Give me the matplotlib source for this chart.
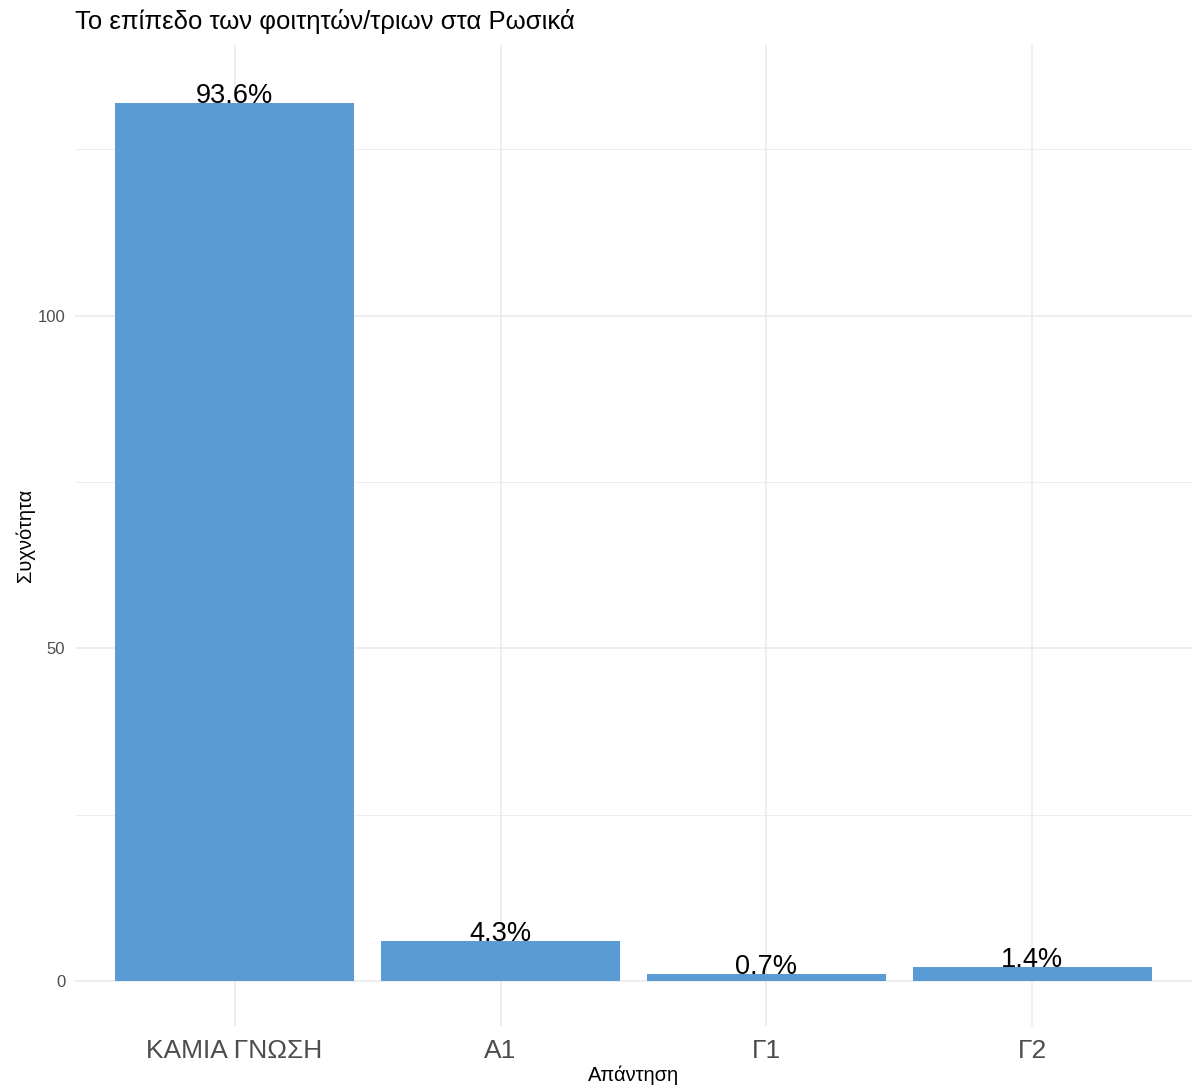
import matplotlib.pyplot as plt
import numpy as np

plt.rcParams['font.family'] = ['Liberation Sans', 'DejaVu Sans']

categories = ["ΚΑΜΙΑ ΓΝΩΣΗ", "A1", "Γ1", "Γ2"]
counts = [132, 6, 1, 2]
labels = ["93.6%", "4.3%", "0.7%", "1.4%"]

W, H = 1192, 1091
fig = plt.figure(figsize=(W / 100, H / 100), dpi=100)
ax = fig.add_axes([75 / W, 1 - 1026 / H, 1 - 75 / W, (1026 - 45) / H])

x = np.arange(len(categories))
ax.bar(x, counts, width=0.9, color="#5B9BD5", zorder=2)
for xi, c, lab in zip(x, counts, labels):
    ax.text(xi, c, lab, ha="center", va="baseline", fontsize=19.5, color="black", zorder=3)

ax.set_xlim(-0.6, len(categories) - 0.4)
ax.set_ylim(-6.8, 140.7)
ax.set_yticks([0, 50, 100])
ax.set_yticks([25, 75, 125], minor=True)
ax.set_xticks(x)
ax.set_xticklabels(categories, fontsize=19, color="#4d4d4d")
ax.tick_params(axis="y", labelsize=12, colors="#4d4d4d", length=0, pad=7)
ax.tick_params(axis="x", length=0, pad=9)
ax.tick_params(which="minor", length=0)
ax.grid(which="major", color="#ebebeb", linewidth=1.2, zorder=0)
ax.grid(which="minor", axis="y", color="#ebebeb", linewidth=0.6, zorder=0)
for s in ax.spines.values():
    s.set_visible(False)

ax.set_xlabel("Απάντηση", fontsize=14.5, labelpad=2)
ax.set_ylabel("Συχνότητα", fontsize=14.5, labelpad=2)
fig.text(75 / W, 1 - 22 / H, "Το επίπεδο των φοιτητών/τριων στα Ρωσικά",
         fontsize=18.5, ha="left", va="center")

fig.savefig("out.png", dpi=100)
